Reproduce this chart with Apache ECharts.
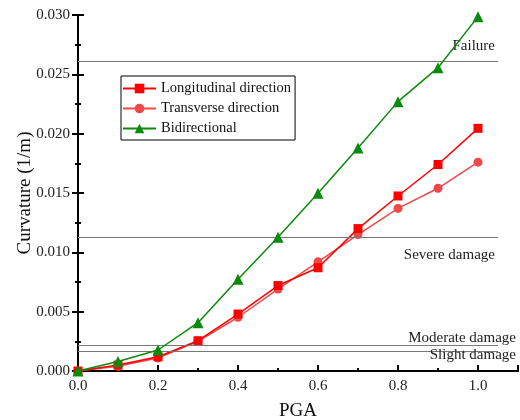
<!DOCTYPE html>
<html>
<head>
<meta charset="utf-8">
<script src="https://cdn.jsdelivr.net/npm/echarts@6/dist/echarts.min.js"></script>
<style>
  html, body { margin: 0; padding: 0; background: #fff; }
  #main { width: 520px; height: 420px; }
</style>
</head>
<body>
<div id="main"></div>
<script>
// PGA values (x) and curvature for each direction
let pga = [0, 0.1, 0.2, 0.3, 0.4, 0.5, 0.6, 0.7, 0.8, 0.9, 1.0];
let longitudinal = [0, 0.0005, 0.0012, 0.00255, 0.0048, 0.0072, 0.0087, 0.0120, 0.01475, 0.0174, 0.02045];
let transverse = [0, 0.0004, 0.0011, 0.0025, 0.00453, 0.0069, 0.0092, 0.0115, 0.0137, 0.0154, 0.0176];
let bidirectional = [0, 0.0008, 0.00177, 0.00407, 0.00773, 0.01127, 0.01497, 0.0188, 0.0227, 0.02556, 0.02986];

// damage state limits
let limitNames = ['Failure', 'Severe damage', 'Moderate damage', 'Slight damage'];
let limitValues = [0.0261, 0.01127, 0.00217, 0.00169];
let limitEnd = 1.05;

let font = '"Times New Roman", "Liberation Serif", serif';

function pairs(ys) {
    return pga.map(function (x, i) { return [x, ys[i]]; });
}

let labelPos = ['insideEndTop', 'insideEndBottom', 'insideEndTop', 'insideEndBottom'];
let labelDist = [[3, 8], [3, 10], [-18, 0], [-18, -3]];

let limitLines = limitValues.map(function (v, i) {
    return [
        { coord: [0, v] },
        {
            coord: [limitEnd, v],
            label: {
                show: true,
                formatter: limitNames[i],
                position: labelPos[i],
                distance: labelDist[i],
                color: '#222',
                fontFamily: font,
                fontSize: 15
            }
        }
    ];
});

let myChart = echarts.init(document.getElementById('main'));

let option = {
    animation: false,
    grid: { left: 78, right: 2, top: 15, bottom: 49, outerBoundsMode: 'none' },
    legend: {
        orient: 'vertical',
        left: 121,
        top: 76,
        itemWidth: 33,
        itemHeight: 12,
        itemGap: 5,
        padding: [5, 4, 4, 1],
        borderColor: '#000',
        borderWidth: 1,
        textStyle: { fontFamily: font, fontSize: 14.5, color: '#111' },
        data: ['Longitudinal direction', 'Transverse direction', 'Bidirectional']
    },
    xAxis: [{
        type: 'value',
        min: 0,
        max: 1.1,
        interval: 0.2,
        name: 'PGA',
        nameLocation: 'middle',
        nameGap: 31,
        nameTextStyle: { fontFamily: font, fontSize: 19, color: '#111' },
        axisLine: { lineStyle: { color: '#000', width: 2 } },
        axisTick: { inside: true, length: 6, lineStyle: { width: 2 } },
        minorTick: { show: true, splitNumber: 2, length: 3, lineStyle: { color: '#000', width: 2 } },
        splitLine: { show: false },
        axisLabel: {
            showMaxLabel: false,
            fontFamily: font, fontSize: 15, color: '#222',
            formatter: function (v) { return v.toFixed(1); }
        }
    }, {
        type: 'value',
        position: 'top',
        min: 0,
        max: 1.1,
        axisLine: { show: true, lineStyle: { color: '#000', width: 2 } },
        axisTick: { show: false },
        axisLabel: { show: false },
        splitLine: { show: false }
    }],
    yAxis: [{
        type: 'value',
        min: 0,
        max: 0.03,
        interval: 0.005,
        name: 'Curvature (1/m)',
        nameLocation: 'middle',
        nameGap: 43,
        nameMoveOverlap: false,
        nameTextStyle: { fontFamily: font, fontSize: 19, color: '#111' },
        axisLine: { show: true, lineStyle: { color: '#000', width: 2 } },
        axisTick: { inside: true, length: 6, lineStyle: { width: 2 } },
        minorTick: { show: true, splitNumber: 2, length: 3, lineStyle: { color: '#000', width: 2 } },
        splitLine: { show: false },
        axisLabel: {
            fontFamily: font, fontSize: 15, color: '#222',
            formatter: function (v) { return v.toFixed(3); }
        }
    }, {
        type: 'value',
        position: 'right',
        min: 0,
        max: 0.03,
        interval: 0.005,
        axisLine: { show: true, lineStyle: { color: '#000', width: 2 } },
        axisTick: { inside: true, length: 6, lineStyle: { width: 2 } },
        minorTick: { show: true, splitNumber: 2, length: 3, lineStyle: { color: '#000', width: 2 } },
        axisLabel: { show: false },
        splitLine: { show: false }
    }],
    series: [
        {
            name: 'Longitudinal direction',
            type: 'line',
            data: pairs(longitudinal),
            symbol: 'rect',
            symbolSize: 9,
            itemStyle: { color: '#ff0000' },
            lineStyle: { color: '#ff0000', width: 1.5 },
            z: 4
        },
        {
            name: 'Transverse direction',
            type: 'line',
            data: pairs(transverse),
            symbol: 'circle',
            symbolSize: 9,
            itemStyle: { color: '#f04848' },
            lineStyle: { color: '#f04848', width: 1.5 },
            z: 3
        },
        {
            name: 'Bidirectional',
            type: 'line',
            data: pairs(bidirectional),
            symbol: 'triangle',
            symbolSize: 11,
            itemStyle: { color: '#0a8a0a' },
            lineStyle: { color: '#0a8a0a', width: 1.5 },
            z: 5,
            markLine: {
                silent: true,
                symbol: 'none',
                animation: false,
                lineStyle: { color: '#777', width: 1, type: 'solid' },
                data: limitLines
            }
        }
    ]
};
myChart.setOption(option);
</script>
</body>
</html>
